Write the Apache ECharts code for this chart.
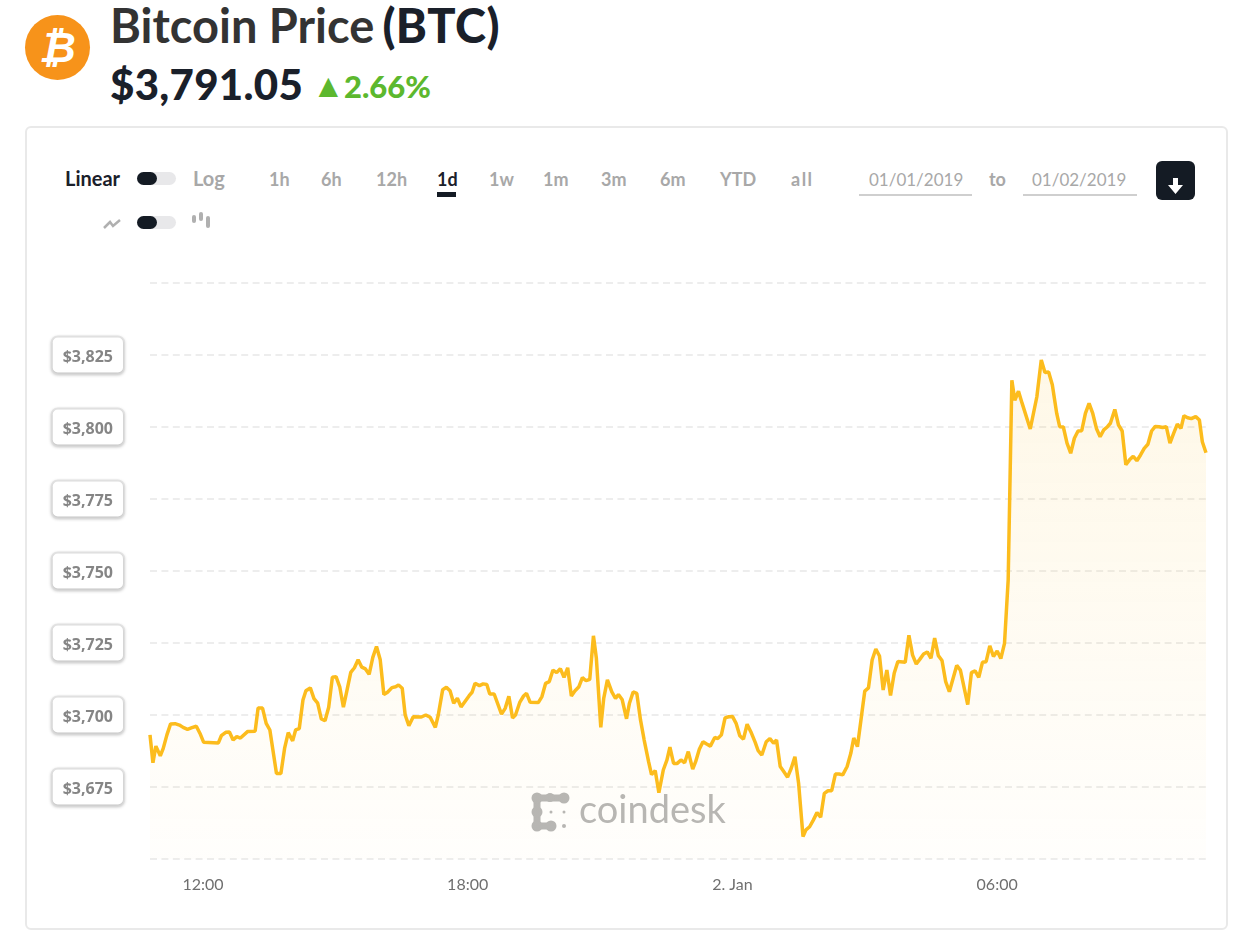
<!DOCTYPE html>
<html>
<head>
<meta charset="utf-8">
<title>Bitcoin Price (BTC)</title>
<script src="https://cdn.jsdelivr.net/npm/echarts@6/dist/echarts.min.js"></script>
<style>
  html, body { margin: 0; padding: 0; background: #fff; overflow: hidden; }
  body { width: 1245px; height: 937px; position: relative; font-family: Lato, sans-serif; }
  .t { position: absolute; white-space: nowrap; line-height: 1; }
  .card { position: absolute; left: 25px; top: 126px; width: 1199px; height: 800px; border: 2px solid #e9e9e9; border-radius: 6px; }
  .coin { position: absolute; left: 25px; top: 15px; width: 65px; height: 65px; border-radius: 50%; background: #f7931a; color: #fff; font: italic bold 42px/65px "Liberation Sans", sans-serif; text-align: center; }
  .range { font-size: 18px; font-weight: 700; color: #a8a8a8; top: 170px; }
  .date { font-size: 17px; color: #a8a8a8; top: 171px; }
  .rule { position: absolute; height: 2px; top: 194px; background: #cfcfcf; }
  .track { position: absolute; left: 137px; width: 39px; height: 13px; border-radius: 7px; background: #e8e8ea; }
  .knob { position: absolute; left: 0; top: 0; width: 20px; height: 13px; border-radius: 7px; background: #141b24; }
  #main { position: absolute; left: 0; top: 0; width: 1245px; height: 937px; }
</style>
</head>
<body>
<div class="coin">&#8383;</div>
<div class="t" style="left:110px;top:2px;font-size:47px;font-weight:700;color:#333">Bitcoin Price<span style="color:#1a202a;margin-left:8px;font-weight:900;letter-spacing:.4px">(BTC)</span></div>
<div class="t" style="left:110px;top:63px;font-size:42px;font-weight:900;color:#1a202a;letter-spacing:.3px">$3,791.05</div>
<div class="t" style="left:312px;top:68px;font-size:33px;color:#5cb82e">&#9650;</div>
<div class="t" style="left:344px;top:71px;font-size:31px;font-weight:900;color:#5cb82e">2.66%</div>

<div class="card"></div>

<div class="t" style="left:65px;top:168px;font-size:20px;font-weight:700;color:#1a202a">Linear</div>
<div class="track" style="top:172px"><div class="knob"></div></div>
<div class="t" style="left:193px;top:168px;font-size:20px;font-weight:700;color:#a8a8a8">Log</div>

<div class="t range" style="left:269px">1h</div>
<div class="t range" style="left:321px">6h</div>
<div class="t range" style="left:376px">12h</div>
<div class="t range" style="left:437px;color:#1a202a">1d</div>
<div style="position:absolute;left:437px;top:192px;width:19px;height:5px;background:#141b24"></div>
<div class="t range" style="left:489px">1w</div>
<div class="t range" style="left:543px">1m</div>
<div class="t range" style="left:601px">3m</div>
<div class="t range" style="left:660px">6m</div>
<div class="t range" style="left:720px">YTD</div>
<div class="t range" style="left:791px;letter-spacing:1.500px">all</div>

<div class="t date" style="left:869px">01/01/2019</div>
<div class="rule" style="left:859px;width:113px"></div>
<div class="t range" style="left:989px">to</div>
<div class="t date" style="left:1032px">01/02/2019</div>
<div class="rule" style="left:1023px;width:114px"></div>

<div style="position:absolute;left:1156px;top:161px;width:39px;height:39px;border-radius:6px;background:#141b24">
  <svg width="39" height="39"><path d="M17 17h5v7h5l-7.500 9-7.500-9h5z" fill="#fff"/></svg>
</div>

<svg style="position:absolute;left:100px;top:212px" width="24" height="22"><path d="M4 16l6-6 3 4 7-6" fill="none" stroke="#b0b0b0" stroke-width="2.500"/></svg>
<div class="track" style="top:216px"><div class="knob"></div></div>
<svg style="position:absolute;left:190px;top:210px" width="24" height="20">
  <rect x="2" y="5" width="4" height="8" rx="2" fill="#b0b0b0"/>
  <rect x="9" y="2" width="4" height="9" rx="2" fill="#b0b0b0"/>
  <rect x="16" y="6" width="4" height="12" rx="2" fill="#b0b0b0"/>
</svg>

<div id="main"></div>

<script>
// minutes after 10:48 on 1 Jan 2019
var minutesFromStart = [
  0,4,8,14,18,23,28,34,40,45,51,57,
  63,68,73,93,97,103,108,113,118,123,133,143,
  147,153,158,163,172,178,183,188,194,198,203,208,
  212,218,223,228,233,238,243,248,253,258,263,268,
  273,278,283,288,293,298,303,308,313,318,323,329,
  334,338,343,347,352,358,369,375,381,388,392,398,
  403,408,413,418,423,434,438,442,448,453,458,462,
  468,478,483,488,493,497,503,508,512,517,528,533,
  538,543,548,553,558,563,568,573,578,583,588,593,
  598,603,607,613,617,622,628,633,637,642,648,652,
  657,662,667,672,678,682,687,692,698,703,707,712,
  717,722,727,732,738,742,747,752,757,762,768,772,
  777,782,787,792,797,802,807,812,817,823,827,832,
  838,843,848,852,857,862,867,872,877,882,888,892,
  897,902,907,912,917,922,927,932,937,942,948,953,
  957,962,968,972,977,982,987,992,997,1002,1007,1012,
  1017,1027,1032,1037,1042,1047,1052,1057,1062,1067,1072,1077,
  1082,1087,1097,1102,1112,1117,1122,1127,1132,1137,1142,1147,
  1152,1157,1162,1167,1172,1176,1181,1186,1197,1206,1212,1217,
  1222,1227,1233,1237,1242,1247,1252,1257,1262,1267,1272,1277,
  1282,1287,1292,1297,1302,1306,1312,1317,1322,1327,1332,1337,
  1342,1347,1352,1357,1362,1367,1372,1377,1382,1387,1392,1397,
  1402,1406,1411,1416,1422,1427,1431,1436
];
var prices = [
  3693.1,3683.4,3689.2,3685.8,3688.4,3693.1,3696.9,3697,3696.5,3695.7,3695,3695.6,
  3696.1,3693.6,3690.5,3690.3,3692.8,3694,3694.1,3691.3,3692.5,3692,3694.3,3694.4,
  3702.4,3702.4,3697.1,3694.8,3679.7,3679.7,3688.4,3693.9,3691,3694.8,3695.3,3705.2,
  3708.4,3709.4,3705.7,3704.1,3698.6,3698,3702.7,3713.1,3713.3,3709.8,3702.7,3708.7,
  3714.8,3716.4,3719.2,3716.6,3716,3714.1,3720,3723.8,3719.3,3707.1,3707.9,3709.5,
  3709.8,3710.4,3709.3,3700,3696.3,3699.4,3699.3,3700,3699.2,3695.7,3700,3708.8,
  3709.6,3708.4,3704.1,3705.8,3702.8,3706.7,3707.9,3711,3710.2,3710.8,3710.6,3707.3,
  3707.3,3700.3,3702.3,3706.5,3699,3700,3704.5,3706.6,3707.5,3704.4,3704.3,3706.4,
  3711,3711.6,3715.6,3714.7,3716.1,3713.1,3716.4,3706.6,3708.4,3709.7,3713,3711.9,
  3712.4,3727.5,3719.7,3695.7,3705.8,3712.2,3708,3705.8,3707.1,3705.4,3698.7,3704.1,
  3708,3707.5,3698.3,3691.3,3683.8,3679.3,3680.7,3673,3680.9,3684.4,3688.8,3683.2,
  3683.2,3684.4,3683.4,3687.3,3681.2,3683.8,3688.1,3690.7,3689.9,3689.2,3692.2,3691.8,
  3693.1,3699,3699.4,3699.5,3697.1,3692.8,3691.6,3696.8,3694.2,3690.5,3687.6,3686.1,
  3690.7,3691.8,3690.2,3691.3,3682.1,3680.3,3678.4,3681.5,3685.5,3676.3,3657.8,3660.1,
  3661.2,3663.5,3666.1,3664.5,3672.8,3673.7,3673.7,3679.5,3679.5,3679.2,3682.1,3686.7,
  3692,3689,3700.6,3708.3,3709.4,3719.1,3722.9,3720.5,3708.7,3715.6,3706.8,3714.5,
  3718.6,3718.3,3727.7,3720.8,3717.7,3719.4,3721.2,3721.9,3719.7,3726.7,3720.6,3718.9,
  3711.6,3708.1,3717.2,3715.6,3703.6,3714.7,3715.3,3713.1,3718.3,3718.5,3724,3720.3,
  3722.2,3719.6,3724.9,3746.9,3816.2,3809.3,3812.4,3808.2,3799.3,3810.5,3823.3,3818.9,
  3819.1,3814.7,3804.7,3800.1,3800,3794.4,3790.9,3796.1,3798.6,3798.7,3804.7,3808.2,
  3804.7,3799.5,3796.6,3799,3800.1,3801.3,3806.1,3800.7,3798.6,3786.9,3788.6,3789.8,
  3788.3,3790.3,3792.6,3794,3798.6,3800.2,3800.1,3799.8,3800.1,3794.4,3797.8,3801,
  3799.5,3803.9,3803.2,3802.9,3803.6,3802.4,3794.9,3791.05
];
var priceTicks = [3675, 3700, 3725, 3750, 3775, 3800, 3825];

var startTime = Date.UTC(2019, 0, 1, 10, 48);
var seriesData = minutesFromStart.map(function (m, i) {
  return [startTime + m * 60000, prices[i]];
});

var myChart = echarts.init(document.getElementById('main'));
// the time scale rounds an exact 6h down to 4h ticks, so ask for a bit more
var TICK_STEP = 7 * 3600 * 1000;

var option = {
  useUTC: true,
  animation: false,
  backgroundColor: 'transparent',
  grid: { left: 150, top: 283, width: 1056, height: 576 },
  xAxis: {
    type: 'time',
    min: startTime,
    max: startTime + 1436 * 60000,
    minInterval: TICK_STEP,
    maxInterval: TICK_STEP,
    axisLine: { show: false },
    axisTick: { show: false },
    splitLine: { show: false },
    axisLabel: {
      interval: 0,
      hideOverlap: false,
      margin: 18,
      color: '#6f6f6f',
      fontFamily: 'Lato',
      fontSize: 16,
      showMinLabel: false,
      showMaxLabel: false,
      formatter: function (value) {
        var d = new Date(value);
        if (d.getUTCMinutes() !== 0 || d.getUTCHours() % 6 !== 0) return '';
        if (d.getUTCHours() === 0) return d.getUTCDate() + '. Jan';
        return (d.getUTCHours() < 10 ? '0' : '') + d.getUTCHours() + ':00';
      }
    }
  },
  yAxis: {
    type: 'value',
    min: 3650,
    max: 3850,
    interval: 25,
    axisLine: { show: false },
    axisTick: { show: false },
    splitLine: { lineStyle: { type: [7, 4.4], color: '#e8e8e8', width: 1.5 } },
    axisLabel: {
      customValues: priceTicks,
      margin: 27,
      backgroundColor: '#fff',
      borderColor: '#e4e4e4',
      borderWidth: 2,
      borderRadius: 5,
      padding: [8, 10, 7],
      shadowColor: 'rgba(0,0,0,0.18)',
      shadowBlur: 3,
      shadowOffsetY: 1,
      // top padding on the rich token sits the text a little low in its box
      rich: {
        p: {
          color: '#858585',
          fontFamily: 'Open Sans',
          fontWeight: 700,
          fontSize: 16,
          padding: [4, 0, 0, 0]
        }
      },
      formatter: function (value) {
        return '{p|$' + echarts.format.addCommas(value) + '}';
      }
    }
  },
  graphic: [
    {
      type: 'text',
      left: 579,
      top: 792,
      z: 0,
      style: { text: 'coindesk', font: '38px Lato', fill: '#b6b6b6' }
    },
    {
      // coindesk mark: beaded bracket with three dots
      type: 'group',
      z: 0,
      silent: true,
      children: [
        { type: 'polyline', shape: { points: [[563, 798], [537, 798], [537, 826], [551, 826]] }, style: { stroke: '#b6b6b6', lineWidth: 7, fill: null } },
        { type: 'circle', shape: { cx: 537, cy: 798, r: 5.5 }, style: { fill: '#b6b6b6' } },
        { type: 'circle', shape: { cx: 550, cy: 797.5, r: 4.5 }, style: { fill: '#b6b6b6' } },
        { type: 'circle', shape: { cx: 564, cy: 798, r: 5.5 }, style: { fill: '#b6b6b6' } },
        { type: 'circle', shape: { cx: 537, cy: 812, r: 5.5 }, style: { fill: '#b6b6b6' } },
        { type: 'circle', shape: { cx: 537, cy: 826, r: 5.5 }, style: { fill: '#b6b6b6' } },
        { type: 'circle', shape: { cx: 551, cy: 826, r: 5.5 }, style: { fill: '#b6b6b6' } },
        { type: 'circle', shape: { cx: 551, cy: 812, r: 1.5 }, style: { fill: '#b6b6b6' } },
        { type: 'circle', shape: { cx: 564, cy: 812, r: 1.5 }, style: { fill: '#b6b6b6' } },
        { type: 'circle', shape: { cx: 564, cy: 826, r: 2 }, style: { fill: '#b6b6b6' } }
      ]
    }
  ],
  series: [
    {
      name: 'BTC',
      type: 'line',
      data: seriesData,
      showSymbol: false,
      smooth: false,
      z: 3,
      lineStyle: { color: '#fcbc1d', width: 3.5 },
      areaStyle: {
        color: new echarts.graphic.LinearGradient(0, 0, 0, 1, [
          { offset: 0, color: 'rgba(250,190,40,0.16)' },
          { offset: 1, color: 'rgba(250,190,40,0.02)' }
        ])
      }
    }
  ]
};
myChart.setOption(option);
</script>
</body>
</html>
